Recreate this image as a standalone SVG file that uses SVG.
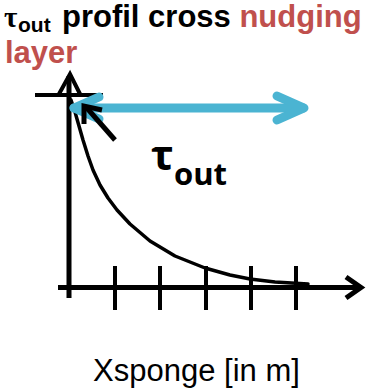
<svg xmlns="http://www.w3.org/2000/svg" width="369" height="390" viewBox="0 0 369 390">
<style>
.ax{stroke:#000;stroke-width:5;fill:none;stroke-linecap:butt;stroke-linejoin:miter}
.tk{stroke:#000;stroke-width:4;fill:none}
.cv{stroke:#000;stroke-width:3.5;fill:none;stroke-linecap:round;stroke-linejoin:round}
.bl{stroke:#4BB4D2;stroke-width:9;fill:none;stroke-linecap:round;stroke-linejoin:round}
.ttl{font-family:"Liberation Sans",Arial,sans-serif;font-weight:bold;font-size:31px;fill:#000}
.red{fill:#C0504D}
.lbl{font-family:"Liberation Sans",Arial,sans-serif;font-size:31px;fill:#000}
.tau{font-family:"Open Sans",sans-serif;font-weight:bold;fill:#000}
</style>
<rect width="369" height="390" fill="#fff"/>
<g id="title">
<text x="4" y="27" style="font-family:'Liberation Serif',serif;font-size:29px;font-weight:bold">τ</text>
<text x="18" y="32" class="ttl" style="font-size:21px">out</text>
<text y="27" class="ttl"><tspan x="62">profil cross </tspan><tspan class="red">nudging</tspan></text>
<text x="5" y="63" class="ttl red">layer</text>
</g>
<g id="axes">
<line class="ax" x1="69" y1="76" x2="69" y2="298"/>
<polyline class="tk" points="59,94 70,74 80,94"/>
<line class="tk" x1="35" y1="95" x2="103" y2="95"/>
<line class="ax" x1="58" y1="287.5" x2="361" y2="287.5"/>
<polyline class="ax" points="346,277 361,287.5 346,298"/>
<g id="ticks">
<line class="tk" x1="115" y1="266" x2="115" y2="310"/>
<line class="tk" x1="160" y1="266" x2="160" y2="310"/>
<line class="tk" x1="206" y1="266" x2="206" y2="310"/>
<line class="tk" x1="251" y1="266" x2="251" y2="310"/>
<line class="tk" x1="296" y1="266" x2="296" y2="310"/>
</g>
</g>
<g id="curve">
<polyline class="cv" points="71,100 75,112 79,126 83,140 88,156 93,170 100,185 108,198 117,210 130,224 150,241 175,256 205,268 230,275 250,279 275,282 308,284"/>
</g>
<g id="connectors">
<g id="blue-arrow">
<line class="bl" x1="74" y1="108" x2="303" y2="108"/>
<polyline class="bl" points="99,97 74,108 99,119"/>
<polyline class="bl" points="277,96 304,108 277,120"/>
</g>
<g id="black-arrow">
<line class="ax" x1="115" y1="140" x2="86" y2="107"/>
<polyline class="ax" points="84,124 84,106 102,110"/>
</g>
</g>
<g id="tau-label">
<text x="151" y="170" class="tau" style="font-size:42px">τ</text>
<text x="174" y="185" class="tau" style="font-size:31px">out</text>
</g>
<g id="x-label">
<text x="196.5" y="381" text-anchor="middle" class="lbl">Xsponge [in m]</text>
</g>
</svg>
